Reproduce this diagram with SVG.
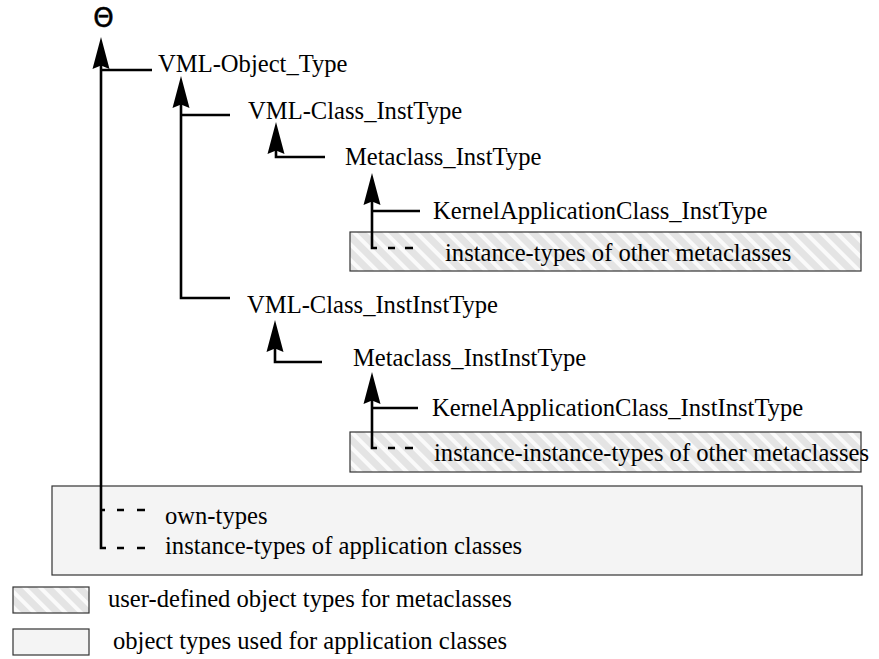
<svg xmlns="http://www.w3.org/2000/svg" xmlns:xlink="http://www.w3.org/1999/xlink" width="879" height="659" viewBox="0 0 879 659">
  <defs>
    <!-- diagonal hatch used for metaclass type boxes -->
    <pattern id="hatch" patternUnits="userSpaceOnUse" width="11" height="11" patternTransform="rotate(-45)">
      <rect width="11" height="11" fill="#fafafa"/>
      <rect width="7" height="11" fill="#e4e4e4"/>
    </pattern>
    <!-- upward arrowhead, tip at origin -->
    <path id="ah" d="M0,0 L8.5,32 L0,28.5 L-8.5,32 Z" fill="#000"/>
  </defs>
  <style>
    .t { font-family: "Liberation Serif", "Times New Roman", serif; font-size: 24.6px; fill: #000; }
    .ln { stroke: #000; stroke-width: 2.6; fill: none; }
    .ds { stroke: #000; stroke-width: 2.4; fill: none; }
    .hbox { fill: url(#hatch); stroke: #333; stroke-width: 1.2; }
    .gbox { fill: #f4f4f4; stroke: #333; stroke-width: 1.2; }
    .sym { font-family: "DejaVu Sans", sans-serif; font-size: 26px; fill: #000; stroke: #000; stroke-width: 0.5; }
  </style>
  <rect width="879" height="659" fill="#fff"/>

  <!-- background regions -->
  <g id="app-region">
    <rect class="gbox" x="52" y="486" width="810" height="89"/>
  </g>
  <g id="meta-inst-region">
    <rect class="hbox" x="350" y="232" width="511" height="39"/>
  </g>
  <g id="meta-instinst-region">
    <rect class="hbox" x="350" y="432" width="511" height="40"/>
  </g>

  <!-- connectors -->
  <g id="connectors">
    <path class="ln" d="M101,60 V548 H106 M101,70 H152 M101,510 H105"/>
    <use xlink:href="#ah" x="101" y="37"/>
    <path class="ln" d="M181,100 V298 H230 M181,115 H230"/>
    <use xlink:href="#ah" x="181" y="76"/>
    <path class="ln" d="M276,145 V157 H325"/>
    <use xlink:href="#ah" x="276" y="122"/>
    <path class="ln" d="M372,195 V248 H377 M372,211 H420"/>
    <use xlink:href="#ah" x="372" y="173"/>
    <path class="ln" d="M275,343 V362 H322"/>
    <use xlink:href="#ah" x="275" y="320"/>
    <path class="ln" d="M372,395 V448 H377 M372,408 H418"/>
    <use xlink:href="#ah" x="372" y="372"/>
    <!-- dashed leaders -->
    <path class="ds" d="M388,248 H395 M405,248 H413 M388,448 H395 M405,448 H413"/>
    <path class="ds" d="M117,510 H124 M137,510 H145 M117,548 H124 M137,548 H145"/>
  </g>

  <!-- nodes -->
  <g id="theta"><text class="sym" x="103.5" y="27" text-anchor="middle">Θ</text></g>
  <g id="vml-object-type"><text class="t" x="158" y="72">VML-Object_Type</text></g>
  <g id="vml-class-insttype"><text class="t" x="248" y="119">VML-Class_InstType</text></g>
  <g id="metaclass-insttype"><text class="t" x="345" y="165">Metaclass_InstType</text></g>
  <g id="kernel-insttype"><text class="t" x="433" y="219">KernelApplicationClass_InstType</text></g>
  <g id="other-insttypes"><text class="t" x="445" y="261">instance-types of other metaclasses</text></g>
  <g id="vml-class-instinsttype"><text class="t" x="247" y="313">VML-Class_InstInstType</text></g>
  <g id="metaclass-instinsttype"><text class="t" x="353" y="366">Metaclass_InstInstType</text></g>
  <g id="kernel-instinsttype"><text class="t" x="432" y="416">KernelApplicationClass_InstInstType</text></g>
  <g id="other-instinsttypes"><text class="t" x="434" y="461">instance-instance-types of other metaclasses</text></g>
  <g id="own-types"><text class="t" x="165" y="524">own-types</text></g>
  <g id="app-insttypes"><text class="t" x="165" y="554">instance-types of application classes</text></g>

  <!-- legend -->
  <g id="legend-meta">
    <rect class="hbox" x="13" y="587" width="76" height="26"/>
    <text class="t" x="108" y="607">user-defined object types for metaclasses</text>
  </g>
  <g id="legend-app">
    <rect class="gbox" x="13" y="629" width="76" height="26"/>
    <text class="t" x="113" y="649">object types used for application classes</text>
  </g>
</svg>
